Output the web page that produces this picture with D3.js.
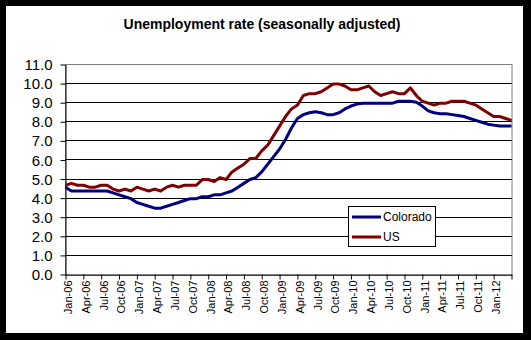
<!DOCTYPE html>
<html>
<head>
<meta charset="utf-8">
<script src="https://cdn.jsdelivr.net/npm/d3@7"></script>
<style>
  html, body { margin: 0; padding: 0; background: #000; }
  svg { display: block; }
  text { font-family: "Liberation Sans", Arial, sans-serif; fill: #000; }
</style>
</head>
<body>
<svg id="chart" width="531" height="340"></svg>
<script>
// Monthly unemployment rate, seasonally adjusted, Jan 2006 – Apr 2012
const tickLabels = [
  "Jan-06","Apr-06","Jul-06","Oct-06",
  "Jan-07","Apr-07","Jul-07","Oct-07",
  "Jan-08","Apr-08","Jul-08","Oct-08",
  "Jan-09","Apr-09","Jul-09","Oct-09",
  "Jan-10","Apr-10","Jul-10","Oct-10",
  "Jan-11","Apr-11","Jul-11","Oct-11",
  "Jan-12"
];
const colorado = [
  4.6, 4.4, 4.4, 4.4, 4.4, 4.4, 4.4, 4.4, 4.3, 4.2, 4.1, 4.0,
  3.8, 3.7, 3.6, 3.5, 3.5, 3.6, 3.7, 3.8, 3.9, 4.0, 4.0, 4.1,
  4.1, 4.2, 4.2, 4.3, 4.4, 4.6, 4.8, 5.0, 5.1, 5.4, 5.8, 6.2,
  6.6, 7.1, 7.7, 8.2, 8.4, 8.5, 8.55, 8.5, 8.4, 8.4, 8.5, 8.7,
  8.85, 8.95, 9.0, 9.0, 9.0, 9.0, 9.0, 9.0, 9.1, 9.1, 9.1, 9.05,
  8.85, 8.6, 8.5, 8.45, 8.45, 8.4, 8.35, 8.3, 8.2, 8.1, 8.0, 7.9,
  7.85, 7.8, 7.8, 7.8
];
const us = [
  4.7, 4.8, 4.7, 4.7, 4.6, 4.6, 4.7, 4.7, 4.5, 4.4, 4.5, 4.4,
  4.6, 4.5, 4.4, 4.5, 4.4, 4.6, 4.7, 4.6, 4.7, 4.7, 4.7, 5.0,
  5.0, 4.9, 5.1, 5.0, 5.4, 5.6, 5.8, 6.1, 6.1, 6.5, 6.8, 7.3,
  7.8, 8.3, 8.7, 8.9, 9.4, 9.5, 9.5, 9.6, 9.8, 10.0, 10.0, 9.9,
  9.7, 9.7, 9.8, 9.9, 9.6, 9.4, 9.5, 9.6, 9.5, 9.5, 9.8, 9.4,
  9.1, 9.0, 8.9, 9.0, 9.0, 9.1, 9.1, 9.1, 9.0, 8.9, 8.7, 8.5,
  8.3, 8.3, 8.2, 8.1
];
const yTicks = [0, 1, 2, 3, 4, 5, 6, 7, 8, 9, 10, 11];
const seriesNames = ["Colorado", "US"];
const seriesColors = ["#000080", "#800000"];

const svg = d3.select("#chart");

// outer frame: black border around a white chart area
svg.append("rect").attr("x", 0).attr("y", 0).attr("width", 531).attr("height", 340).attr("fill", "#000");
svg.append("rect").attr("x", 6).attr("y", 6).attr("width", 517).attr("height", 327).attr("fill", "#fff");

const plotLeft = 65.5, plotRight = 511.5, plotTop = 65, plotBottom = 275;
const nMonths = colorado.length; // 76 points, index 0..75

const x = d3.scaleLinear().domain([0, nMonths - 1]).range([plotLeft, plotRight]);
const y = d3.scaleLinear().domain([0, 11]).range([plotBottom, plotTop]);
const snap = v => Math.round(v) + 0.5;

// title
svg.append("text")
  .attr("x", 262).attr("y", 29)
  .attr("text-anchor", "middle")
  .style("font-size", "14px").style("font-weight", "bold")
  .text("Unemployment rate (seasonally adjusted)");

// plot-area border (grey)
svg.append("rect")
  .attr("x", plotLeft).attr("y", snap(y(11)) - 1)
  .attr("width", plotRight - plotLeft + 0.5).attr("height", snap(y(0)) - snap(y(11)) + 1)
  .attr("fill", "none").attr("stroke", "#808080").attr("stroke-width", 1);

// horizontal gridlines
svg.append("g").selectAll("line")
  .data(yTicks.filter(d => d > 0 && d < 11))
  .join("line")
  .attr("x1", plotLeft).attr("x2", plotRight + 0.5)
  .attr("y1", d => snap(y(d)) - 1).attr("y2", d => snap(y(d)) - 1)
  .attr("stroke", "#000").attr("stroke-width", 1);

// y axis
const yAxis = d3.axisLeft(y).tickValues(yTicks).tickFormat(d3.format(".1f")).tickSize(5).tickSizeOuter(0).tickPadding(8);
const gy = svg.append("g").attr("transform", `translate(${plotLeft},-0.5)`).call(yAxis);
gy.selectAll("text").style("font-size", "15px").attr("dy", "0.34em");
gy.selectAll("line, path").attr("stroke", "#000");

// x axis: a tick every quarter, label on each quarter up to Jan-12
const xTickIdx = d3.range(0, nMonths, 3);
const xAxis = d3.axisBottom(x).tickValues(xTickIdx)
  .tickFormat(i => tickLabels[i / 3] || "").tickSize(5).tickSizeOuter(0);
const gx = svg.append("g").attr("transform", `translate(0,${plotBottom - 0.5})`).call(xAxis);
gx.selectAll("line, path").attr("stroke", "#000");
gx.selectAll("text")
  .style("font-size", "11px")
  .attr("transform", "rotate(-90)")
  .attr("text-anchor", "end")
  .attr("x", -6).attr("y", 2).attr("dy", "0.35em");

// series lines
const line = d3.line().x((d, i) => x(i)).y(d => y(d));
[colorado, us].forEach((s, k) => {
  svg.append("path")
    .datum(s)
    .attr("d", line)
    .attr("fill", "none")
    .attr("stroke", seriesColors[k])
    .attr("stroke-width", 3)
    .attr("stroke-linejoin", "round");
});

// legend
const lg = svg.append("g");
lg.append("rect").attr("x", 348.5).attr("y", 206.5).attr("width", 87).attr("height", 40)
  .attr("fill", "#fff").attr("stroke", "#000").attr("stroke-width", 1);
seriesNames.forEach((name, k) => {
  const ly = 217 + k * 20;
  lg.append("line").attr("x1", 352).attr("x2", 381).attr("y1", ly).attr("y2", ly)
    .attr("stroke", seriesColors[k]).attr("stroke-width", 3);
  lg.append("text").attr("x", 383).attr("y", ly).attr("dy", "0.36em")
    .style("font-size", "12px").text(name);
});
</script>
</body>
</html>
